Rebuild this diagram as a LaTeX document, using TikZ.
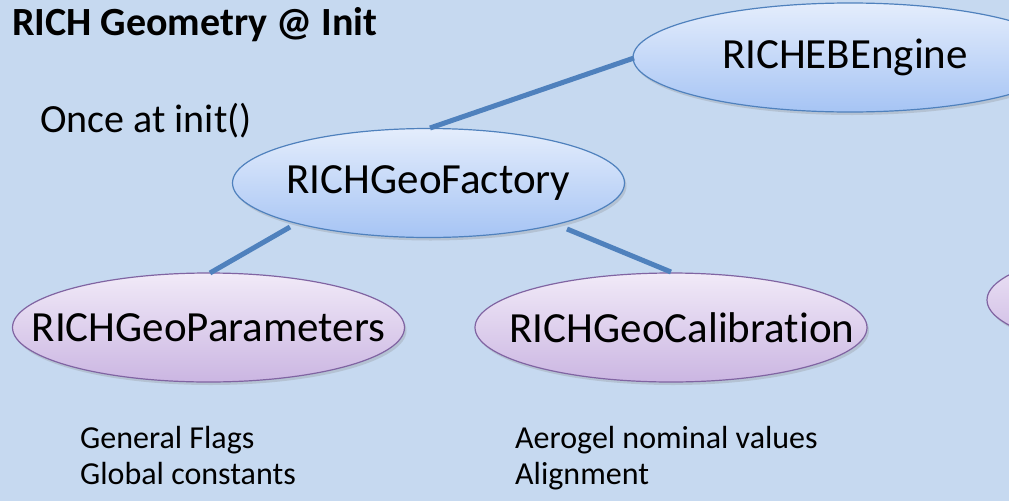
\documentclass[tikz,border=0pt]{standalone}
\usepackage{fontspec}
\setmainfont{Carlito}[Ligatures=NoCommon]
\usetikzlibrary{shapes.geometric,shadows}
\definecolor{bg}{HTML}{C6D9F0}
\definecolor{blueedge}{HTML}{4F81BD}
\definecolor{bluetop}{HTML}{E4EDFC}
\definecolor{bluebot}{HTML}{A6C4F4}
\definecolor{purpedge}{HTML}{8064A2}
\definecolor{purptop}{HTML}{F1EAF8}
\definecolor{purpbot}{HTML}{CBB6E2}
\definecolor{link}{HTML}{4F81BD}
\tikzset{
  ellbase/.style={ellipse, line width=1.2pt, inner sep=0pt,
    minimum width=392pt, minimum height=109pt,
    drop shadow={shadow xshift=2pt, shadow yshift=-3pt, opacity=0.25},
    font=\fontsize{43}{50}\selectfont},
  blueell/.style={ellbase, draw=blueedge, top color=bluetop, bottom color=bluebot},
  purpell/.style={ellbase, draw=purpedge, top color=purptop, bottom color=purpbot},
  conn/.style={draw=link, line width=5pt},
  title/.style={anchor=base west, inner sep=0pt, font=\bfseries\fontsize{40}{48}\selectfont},
  label/.style={anchor=base west, inner sep=0pt, font=\fontsize{40}{48}\selectfont},
  small/.style={anchor=base west, inner sep=0pt, font=\fontsize{32}{38}\selectfont}
}
\begin{document}
\begin{tikzpicture}[x=1pt,y=-1pt]
\useasboundingbox (0,0) rectangle (1009,501);
\fill[bg] (0,0) rectangle (1009,501);
\clip (0,0) rectangle (1009,501);
\node[title] (t) at (12,35) {RICH Geometry @ Init};
\node[label] (once) at (40,132) {Once at init()};
\node[blueell, minimum width=434pt] (eng) at (850,57.5) {\hspace*{-10pt}\makebox[0pt]{RICHEBEngine}};
\node[blueell] (fac) at (428.5,183) {\makebox[0pt]{RICHGeoFactory}};
\node[purpell] (par) at (208.5,327.5) {\makebox[0pt]{RICHGeoParameters}};
\node[purpell] (cal) at (671,327.5) {\hspace*{22pt}\makebox[0pt]{RICHGeoCalibration}};
\node[purpell] (extra) at (1183,300) {};
\coordinate (facN) at (430,128);
\coordinate (engW) at (634,58);
\coordinate (facSW) at (290,227);
\coordinate (parN) at (210,273);
\coordinate (facSE) at (567,229);
\coordinate (calN) at (671,272);
\draw[conn] (facN) -- (engW);
\draw[conn] (facSW) -- (parN);
\draw[conn] (facSE) -- (calN);
\node[small] (gf) at (80,448) {General Flags};
\node[small] (gc) at (80,484) {Global constants};
\node[small] (ag) at (515,448) {Aerogel nominal values};
\node[small] (al) at (515,484) {Alignment};
\end{tikzpicture}
\end{document}
